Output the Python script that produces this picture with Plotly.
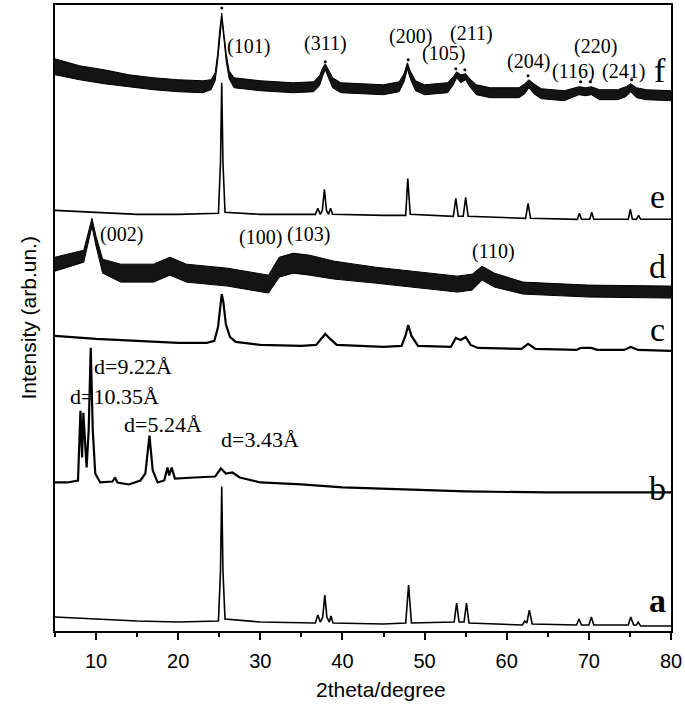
import plotly.graph_objects as go

# ---------------- data (2theta in degrees, intensity in arbitrary stacked units) ----------------
a_x = [5, 10, 15, 20, 24.9, 25.15, 25.3, 25.45, 25.7, 30, 36.7, 37.0, 37.3, 37.6, 37.85, 38.1, 38.4, 38.6, 38.85,
       45, 47.7, 48.05, 48.4, 53.6, 53.9, 54.2, 54.8, 55.1, 55.4, 61.9, 62.2, 62.45, 62.75, 63.1,
       68.5, 68.8, 69.1, 70.0, 70.3, 70.6, 74.8, 75.1, 75.45, 75.8, 76.0, 76.3, 80]
a_y = [14, 12, 10, 9, 10, 60, 145, 60, 12, 9, 8, 16, 9, 14, 36, 14, 9, 15, 8,
       7, 8, 46, 8, 9, 28, 9, 9, 28, 8, 6, 10, 8, 21, 7,
       6, 12, 6, 6, 14, 6, 6, 14, 6, 6, 9, 5, 5]

b_x = [5, 6.5, 7.8, 8.1, 8.3, 8.45, 8.85, 9.1, 9.35, 9.6, 9.9, 10.5, 12.0, 12.3, 12.6, 14, 15.4, 16.0, 16.5,
       16.9, 17.5, 18.3, 18.7, 18.9, 19.2, 19.6, 22, 24.5, 25.2, 25.8, 26.6, 27.5, 30, 35, 40, 46.5, 55, 65, 80]
b_y = [149, 149, 151, 221, 174, 219, 164, 201, 284, 201, 158, 149, 150, 154, 149, 147, 151, 158, 196,
       161, 149, 151, 164, 156, 164, 153, 154, 155, 163, 158, 159, 154, 149, 147, 144, 142, 140, 139, 139]

c_x = [5, 10, 15, 20, 23.5, 24.4, 24.85, 25.1, 25.3, 25.5, 25.8, 26.3, 27, 30, 35, 36.8, 37.4, 37.9, 38.5, 39.3,
       45, 47.2, 47.7, 48.0, 48.4, 49.2, 53.2, 53.8, 54.4, 55.0, 55.6, 56.5, 61.8, 62.6, 63.5,
       68.5, 69.0, 70.3, 71.0, 74.3, 75.1, 76.0, 80]
c_y = [296, 293, 291, 289, 289, 291, 305, 328, 338, 330, 308, 295, 290, 287, 286, 287, 293, 298, 293, 287,
       285, 286, 297, 307, 296, 286, 285, 294, 292, 295, 287, 284, 283, 288, 283,
       282, 284, 284, 282, 282, 285, 282, 281]

d_x = [5, 8.5, 9.0, 9.5, 10.0, 10.8, 13, 17, 19, 21, 26, 31, 32.3, 34, 36, 39, 44, 50, 54, 55.8, 57, 58.5, 62, 70, 80]
d_y = [368, 376, 393, 410, 391, 366, 359, 359, 366, 359, 355, 348, 365, 369, 367, 362, 357, 352, 348, 350, 359, 352, 344, 341, 340]
d_noise = [7, 6, 5, 4, 5, 7, 9, 9, 9, 9, 9, 9, 10, 10, 10, 9, 8, 8, 8, 8, 7, 7, 6, 6, 6]

e_x = [5, 10, 15, 20, 24.9, 25.15, 25.3, 25.45, 25.7, 30, 36.7, 37.0, 37.3, 37.55, 37.8, 38.05, 38.3, 38.55, 38.8,
       45, 47.7, 47.95, 48.25, 53.5, 53.8, 54.1, 54.7, 55.0, 55.3, 62.3, 62.6, 62.9,
       68.6, 68.85, 69.1, 70.1, 70.35, 70.6, 74.8, 75.05, 75.3, 75.8, 76.05, 76.3, 80]
e_y = [422, 420, 418, 418, 419, 470, 550, 470, 420, 418, 418, 424, 418, 422, 443, 422, 418, 424, 418,
       417, 417, 454, 418, 416, 434, 416, 416, 435, 416, 414, 429, 414,
       413, 419, 413, 413, 420, 413, 413, 423, 413, 413, 417, 413, 413]

f_x = [5, 8, 11, 14, 17, 20, 23, 24.0, 24.5, 24.8, 25.05, 25.3, 25.55, 25.85, 26.2, 26.8, 30, 34, 36.5, 37.2, 37.6,
       37.9, 38.3, 38.8, 39.8, 45, 46.9, 47.5, 47.9, 48.3, 48.9, 50, 52.8, 53.5, 53.9, 54.4, 55.0, 55.5, 56.3,
       58, 61.5, 62.2, 62.7, 63.3, 64.2, 67, 68.8, 69.6, 70.3, 71.3, 73.5, 74.5, 75.1, 75.8, 77, 80]
f_y = [566, 560, 556, 552, 549, 547, 546, 548, 556, 575, 600, 617, 598, 575, 558, 550, 547, 545, 546, 552, 561,
       566, 559, 550, 545, 543, 546, 555, 567, 557, 547, 543, 545, 552, 558, 554, 556, 550, 543,
       540, 540, 544, 549, 544, 539, 537, 542, 541, 542, 538, 538, 541, 545, 540, 538, 537]
f_noise = [8, 7, 7, 6, 6, 6, 6, 5, 4, 4, 3, 3, 3, 4, 4, 5, 5, 5, 5, 5, 4,
           3, 4, 5, 5, 5, 5, 4, 3, 4, 5, 5, 5, 4, 3, 4, 3, 4, 5,
           5, 5, 5, 4, 5, 5, 5, 4, 4, 4, 5, 5, 5, 4, 5, 5, 5]

# peaks marked with a dot in pattern f
dot_x = [25.3, 37.9, 48.0, 53.8, 54.9, 62.6, 69.0, 70.2, 75.2]
dot_y = [625, 571, 573, 564, 563, 557, 551, 551, 553]

tick_vals = [10, 20, 30, 40, 50, 60, 70, 80]
tick_text = ["10", "20", "30", "40", "50", "60", "70", "80"]

miller_f = ["(101)", "(311)", "(200)", "(105)", "(211)", "(204)", "(116)", "(220)", "(241)"]
miller_d = ["(002)", "(100)", "(103)", "(110)"]
d_spacing = ["d=9.22Å", "d=10.35Å", "d=5.24Å", "d=3.43Å"]
sample_names = ["f", "e", "d", "c", "b", "a"]

# ---------------- layout positions of text labels (x in degrees, y in plot units) ----------------
miller_f_pos = [(28.6, 586), (37.9, 589), (48.3, 596), (52.3, 579), (55.7, 599), (62.6, 571), (68.1, 561), (70.8, 586), (74.2, 561)]
miller_d_pos = [(13.1, 398), (30.0, 395), (35.9, 398), (58.4, 381)]
d_spacing_pos = [(14.5, 265), (12.2, 235), (18.1, 207), (30.0, 192)]
sample_pos = [(78.6, 562), (78.4, 436), (78.4, 366), (78.4, 302), (78.4, 143), (78.4, 31)]

fig = go.Figure()

def band(x, y, n, name):
    up = [v + s for v, s in zip(y, n)]
    lo = [v - s for v, s in zip(y, n)]
    fig.add_trace(go.Scatter(x=x, y=lo, mode="lines", line=dict(color="black", width=1),
                             showlegend=False, hoverinfo="skip"))
    fig.add_trace(go.Scatter(x=x, y=up, mode="lines", line=dict(color="black", width=1),
                             fill="tonexty", fillcolor="rgba(0,0,0,0.92)", showlegend=False, name=name))

fig.add_trace(go.Scatter(x=a_x, y=a_y, mode="lines", line=dict(color="black", width=1.6), showlegend=False, name="a"))
fig.add_trace(go.Scatter(x=b_x, y=b_y, mode="lines", line=dict(color="black", width=2.2), showlegend=False, name="b"))
fig.add_trace(go.Scatter(x=c_x, y=c_y, mode="lines", line=dict(color="black", width=2.2), showlegend=False, name="c"))
band(d_x, d_y, d_noise, "d")
fig.add_trace(go.Scatter(x=e_x, y=e_y, mode="lines", line=dict(color="black", width=1.6), showlegend=False, name="e"))
band(f_x, f_y, f_noise, "f")
fig.add_trace(go.Scatter(x=dot_x, y=dot_y, mode="markers", marker=dict(color="black", size=3), showlegend=False))

serif = "Liberation Serif"
ann = []
for t, (x, y) in zip(miller_f, miller_f_pos):
    ann.append(dict(x=x, y=y, text=t, showarrow=False, font=dict(family=serif, size=20, color="black")))
for t, (x, y) in zip(miller_d, miller_d_pos):
    ann.append(dict(x=x, y=y, text=t, showarrow=False, font=dict(family=serif, size=20, color="black")))
for t, (x, y) in zip(d_spacing, d_spacing_pos):
    ann.append(dict(x=x, y=y, text=t, showarrow=False, font=dict(family=serif, size=22, color="black")))
for t, (x, y) in zip(sample_names, sample_pos):
    ann.append(dict(x=x, y=y, text=("<b>%s</b>" % t) if t == "a" else t, showarrow=False,
                    font=dict(family=serif, size=34, color="black")))
ann.append(dict(xref="paper", yref="paper", x=-0.065, y=0.5, text="Intensity (arb.un.)", textangle=-90,
                showarrow=False, font=dict(family="Liberation Sans", size=21, color="black")))
ann.append(dict(xref="paper", yref="paper", x=0.53, y=-0.094, yanchor="middle", text="2theta/degree",
                showarrow=False, font=dict(family="Liberation Sans", size=21, color="black")))

fig.update_layout(
    width=685, height=709,
    margin=dict(l=55, r=14, t=3, b=78),
    paper_bgcolor="white", plot_bgcolor="white",
    annotations=ann,
    xaxis=dict(range=[5, 80], tickvals=tick_vals, ticktext=tick_text, ticks="outside", ticklen=7, tickwidth=1.5,
               tickcolor="black", showline=True, linecolor="black", linewidth=2, mirror=True,
               showgrid=False, zeroline=False, ticklabelstandoff=4,
               tickfont=dict(family="Liberation Sans", size=20, color="black"),
               minor=dict(tickvals=[5, 15, 25, 35, 45, 55, 65, 75], ticks="outside", ticklen=4, tickwidth=1.5,
                          tickcolor="black")),
    yaxis=dict(range=[0, 628], showticklabels=False, ticks="", showline=True, linecolor="black", linewidth=2,
               mirror=True, showgrid=False, zeroline=False),
)

fig.write_html("out.html", config={"displayModeBar": False},
               post_script="document.body.style.margin='0px';document.body.style.overflow='hidden';")
